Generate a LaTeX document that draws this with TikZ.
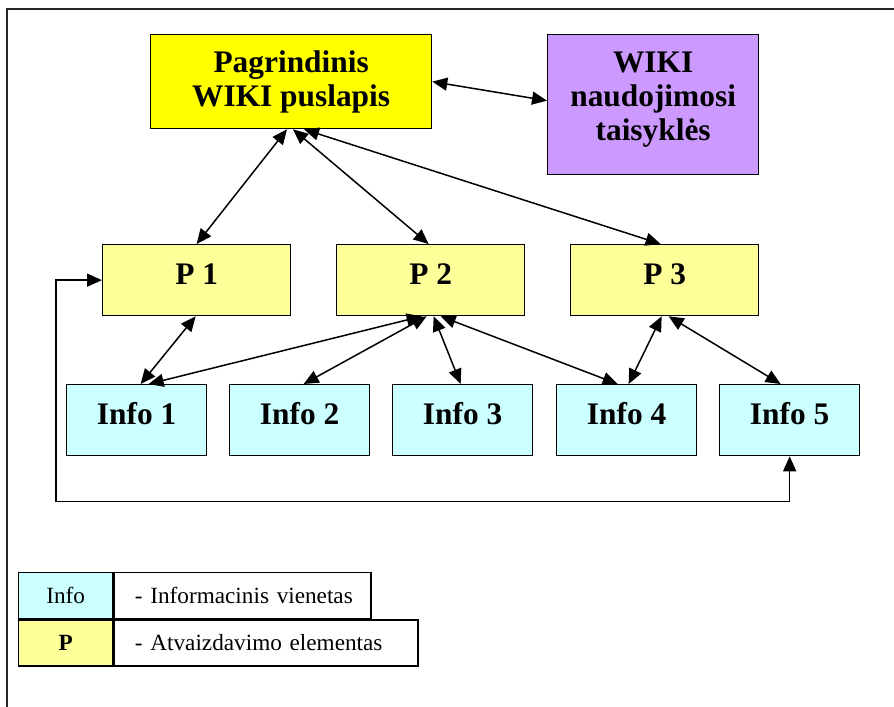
\documentclass[tikz,border=0pt]{standalone}
\usepackage{fontspec}
\setmainfont{Liberation Serif}
\usetikzlibrary{arrows.meta}
\definecolor{mainyellow}{HTML}{FFFF00}
\definecolor{rulesviolet}{HTML}{CC99FF}
\definecolor{pyellow}{HTML}{FFFF99}
\definecolor{infocyan}{HTML}{CCFFFF}
\begin{document}
\begin{tikzpicture}[x=1bp,y=-1bp,
  box/.style={draw=black, line width=1.3bp, inner sep=0pt, align=center, anchor=north west,
    font=\bfseries\fontsize{31.5}{34.5}\selectfont},
  onelinebox/.style={box, text height=21bp, text depth=12bp},
  pbox/.style={onelinebox, fill=pyellow, minimum width=188bp, minimum height=71bp},
  infobox/.style={onelinebox, fill=infocyan, minimum width=140bp, minimum height=71bp},
  keycell/.style={draw=black, line width=1.3bp, inner sep=0pt, anchor=north west,
    minimum width=94bp, minimum height=46bp, font=\fontsize{23.3}{26}\selectfont},
  desccell/.style={draw=black, line width=1.3bp, inner sep=0pt, anchor=north west,
    minimum height=46bp, align=left, font=\fontsize{23.3}{26}\selectfont},
  tip/.tip={Triangle[length=15bp,width=13bp]},
  link/.style={line width=1.5bp, tip-tip}]
\useasboundingbox (0,0) rectangle (894,707);

% outer frame
\draw[line width=1.5bp, black!85] (7,707) -- (7,9) -- (894,9);

% main page and usage rules
\node[box, fill=mainyellow, minimum width=281bp, minimum height=94bp] (main) at (150,34)
  {Pagrindinis\\WIKI puslapis};
\node[box, fill=rulesviolet, minimum width=211bp, minimum height=140bp, text depth=17bp] (rules) at (547,34)
  {WIKI\\naudojimosi\\taisyklės};

% display elements
\node[pbox] (p1) at (102,244) {P 1};
\node[pbox] (p2) at (336,244) {P 2};
\node[pbox] (p3) at (570,244) {P 3};

% information units
\node[infobox] (i1) at (66,384) {Info 1};
\node[infobox] (i2) at (229,384) {Info 2};
\node[infobox] (i3) at (392,384) {Info 3};
\node[infobox] (i4) at (556,384) {Info 4};
\node[infobox] (i5) at (719,384) {Info 5};

% connectors
\draw[link] (main.east) -- ([yshift=4bp]rules.west);
\draw[link] ([xshift=137bp]main.south west) -- (p1.north);
\draw[link] ([xshift=143bp]main.south west) -- ([xshift=-2bp]p2.north);
\draw[link] ([xshift=154bp]main.south west) -- ([xshift=-4bp]p3.north);

\draw[link] ([xshift=-1bp]p1.south) -- ([xshift=4bp]i1.north);
\draw[link] ([xshift=-9bp]p2.south) -- ([xshift=12bp]i1.north);
\draw[link] ([xshift=-4bp]p2.south) -- ([xshift=4bp]i2.north);
\draw[link] ([xshift=3bp]p2.south) -- ([xshift=-2bp]i3.north);
\draw[link] ([xshift=10bp]p2.south) -- ([xshift=-9bp]i4.north);
\draw[link] ([xshift=-3bp]p3.south) -- ([xshift=2bp]i4.north);
\draw[link] ([xshift=4bp]p3.south) -- ([xshift=-9bp]i5.north);

\coordinate (loopbase) at ([yshift=-45bp]i5.south);
\draw[link] (p1.west) -- ++(-46,0) |- (loopbase) -- (i5.south);

% legend
\node[keycell, fill=infocyan] (kinfo) at (18,572) {Info};
\node[desccell, text width=257bp] (dinfo) at (kinfo.north east)
  {\hspace*{21bp}- Informacinis vienetas};
\node[keycell, fill=pyellow, font=\bfseries\fontsize{23.3}{26}\selectfont] (kp) at (kinfo.south west) {P};
\node[desccell, text width=304bp] (dp) at (kp.north east)
  {\hspace*{21bp}- Atvaizdavimo elementas};
\end{tikzpicture}
\end{document}
